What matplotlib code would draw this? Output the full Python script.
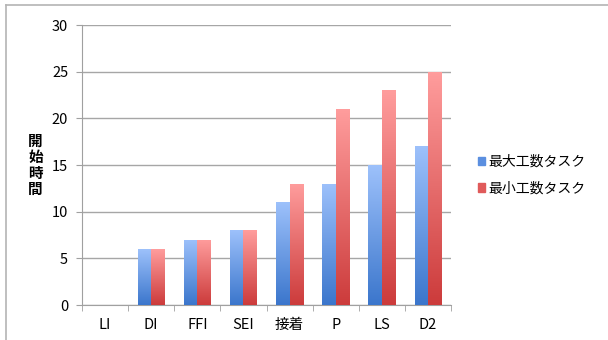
import numpy as np
import matplotlib
matplotlib.use("Agg")
import matplotlib.pyplot as plt
import matplotlib.patches as mpatches
from matplotlib.colors import LinearSegmentedColormap
from matplotlib.lines import Line2D

plt.rcParams['font.family'] = ['Noto Sans CJK JP', 'DejaVu Sans']

categories = ['LI', 'DI', 'FFI', 'SEI', '接着', 'P', 'LS', 'D2']
max_task = [0, 6, 7, 8, 11, 13, 15, 17]
min_task = [0, 6, 7, 8, 13, 21, 23, 25]
series_names = ['最大工数タスク', '最小工数タスク']
y_ticks = [0, 5, 10, 15, 20, 25, 30]

# 縦方向グラデーション（下が濃く、上が淡い）
blue_cmap = LinearSegmentedColormap.from_list('b', ['#3b76cc', '#9dc1fb'])
red_cmap = LinearSegmentedColormap.from_list('r', ['#cc3b3b', '#ff9d9d'])

fig = plt.figure(figsize=(6.08, 3.40), dpi=100)
ax = fig.add_axes([0.1349, 0.1029, 0.6069, 0.8235])

x = np.arange(len(categories))
w = 0.29
bars_b = ax.bar(x - w / 2, max_task, w, color='none', edgecolor='none', zorder=3)
bars_r = ax.bar(x + w / 2, min_task, w, color='none', edgecolor='none', zorder=3)

grad = np.linspace(0, 1, 256).reshape(-1, 1)
for bars, cmap in ((bars_b, blue_cmap), (bars_r, red_cmap)):
    for rect in bars:
        h = rect.get_height()
        if h <= 0:
            continue
        x0 = rect.get_x()
        im = ax.imshow(grad, cmap=cmap, aspect='auto', origin='lower',
                       extent=(x0, x0 + rect.get_width(), 0, h), zorder=3)
        im.set_clip_path(rect)

ax.set_xlim(-0.5, len(categories) - 0.5)
ax.set_ylim(0, 30)
ax.set_yticks(y_ticks)
ax.set_xticks(x)
ax.set_xticklabels(categories, fontsize=10.5)
ax.set_xticks(np.arange(len(categories) + 1) - 0.5, minor=True)
ax.tick_params(axis='x', which='major', length=0, pad=9)
ax.tick_params(axis='x', which='minor', length=4, color='#a0a0a0', direction='out')
ax.tick_params(axis='y', length=4, color='#a0a0a0', labelsize=10.5, pad=6)

ax.yaxis.grid(True, color='#a6a6a6', linewidth=1)
ax.set_axisbelow(True)
for s in ('top', 'right'):
    ax.spines[s].set_visible(False)
for s in ('left', 'bottom'):
    ax.spines[s].set_color('#a0a0a0')

fig.text(0.058, 0.515, '\n'.join('開始時間'), fontsize=10.5, fontweight='bold',
         ha='center', va='center', linespacing=1.0)

handles = [mpatches.Patch(color='#5b8fe0', label=series_names[0]),
           mpatches.Patch(color='#e05a5a', label=series_names[1])]
fig.legend(handles=handles, loc='center left', bbox_to_anchor=(0.765, 0.485),
           frameon=False, fontsize=10, handlelength=0.55, handleheight=0.55,
           handletextpad=0.25, labelspacing=0.9)

# 外枠（上と左）
fig.add_artist(Line2D([6 / 608, 1], [1 - 5 / 340, 1 - 5 / 340],
                      transform=fig.transFigure, color='#b4b4b4', linewidth=1.2))
fig.add_artist(Line2D([6 / 608, 6 / 608], [0, 1 - 5 / 340],
                      transform=fig.transFigure, color='#b4b4b4', linewidth=1.2))

fig.savefig('out.png', dpi=100)
